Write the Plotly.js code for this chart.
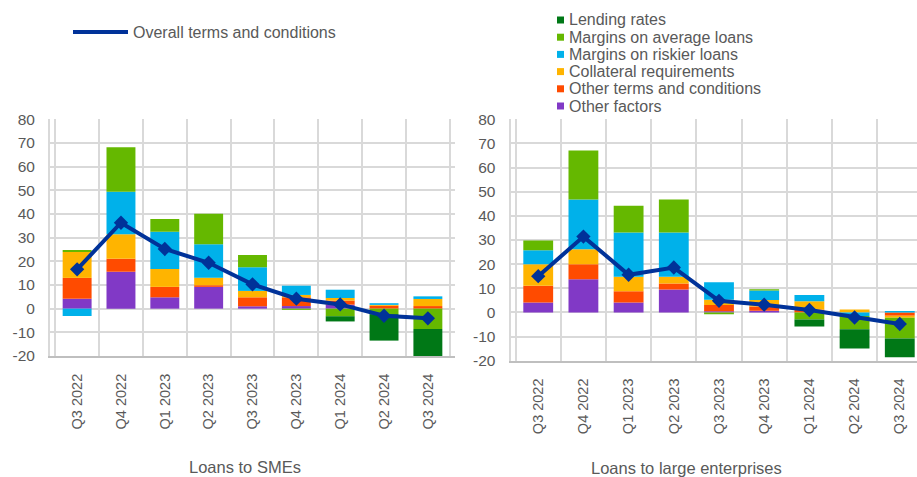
<!DOCTYPE html>
<html>
<head>
<meta charset="utf-8">
<script src="https://cdn.plot.ly/plotly-3.0.1.min.js"></script>
<style>
html, body { margin: 0; padding: 0; overflow: hidden; background: #ffffff; }
#chart { width: 935px; height: 477px; }
</style>
</head>
<body>
<div id="chart"></div>
<script>
// ---- Data ----
const categories = ["Q3 2022","Q4 2022","Q1 2023","Q2 2023","Q3 2023","Q4 2023","Q1 2024","Q2 2024","Q3 2024"];

const seriesNames = ["Lending rates","Margins on average loans","Margins on riskier loans","Collateral requirements","Other terms and conditions","Other factors"];
const lineName = "Overall terms and conditions";

// Loans to SMEs
const smeLending      = [0, 0, 0, 0, 0, 0, -2.2, -11.2, -11.4];
const smeMarginsAvg   = [0.9, 18.8, 5.4, 12.9, 5.2, -0.5, -3.2, -2.3, -8.6];
const smeMarginsRisk  = [-3.1, 18.0, 15.7, 14.1, 10.0, 3.9, 3.5, 0.7, 1.1];
const smeCollateral   = [10.9, 10.3, 7.6, 3.2, 2.7, 1.0, 1.1, 0.4, 3.0];
const smeOtherTerms   = [8.8, 5.5, 4.4, 0.7, 3.8, 3.7, 1.7, 1.2, 1.1];
const smeOtherFactors = [4.2, 15.6, 4.8, 9.2, 1.0, 1.1, 1.7, 0, 0];
const smeOverall      = [16.6, 36.3, 25.2, 19.4, 10.3, 4.2, 1.8, -3.0, -4.1];

// Loans to large enterprises
const largeLending      = [0, 0, 0, 0, 0, 0, -2.9, -7.9, -7.8];
const largeMarginsAvg   = [4.0, 20.3, 11.1, 13.7, -0.8, 0.5, -2.9, -5.5, -8.6];
const largeMarginsRisk  = [5.8, 20.6, 18.3, 18.3, 7.2, 4.0, 2.6, -1.5, 0.6];
const largeCollateral   = [9.0, 6.2, 6.0, 2.8, 2.2, 2.6, 3.4, 1.2, -0.8];
const largeOtherTerms   = [6.9, 6.3, 4.7, 2.5, 2.6, 1.8, 1.2, 0, -1.4];
const largeOtherFactors = [4.1, 13.7, 4.1, 9.5, 0.5, 0.7, 0, 0, 0];
const largeOverall      = [15.0, 31.4, 15.6, 18.6, 4.8, 3.2, 1.0, -2.1, -4.8];

const yTickVals = [-20, -10, 0, 10, 20, 30, 40, 50, 60, 70, 80];
const yTickText = ["-20", "-10", "0", "10", "20", "30", "40", "50", "60", "70", "80"];
const panelTitles = ["Loans to SMEs", "Loans to large enterprises"];

// ---- Styles ----
const colors = ["#007816", "#65B800", "#00B1EA", "#FFB400", "#FF4B00", "#8139C6"];
const lineColor = "#003299";
const textColor = "#595959";
const gridColor = "#d9d9d9";
const FONT = "Arial, 'Liberation Sans', sans-serif";

const smeSeries = [smeLending, smeMarginsAvg, smeMarginsRisk, smeCollateral, smeOtherTerms, smeOtherFactors];
const largeSeries = [largeLending, largeMarginsAvg, largeMarginsRisk, largeCollateral, largeOtherTerms, largeOtherFactors];

const traces = [];
function addPanel(series, overall, xa, ya) {
  // stacking order: Other factors closest to zero ... Lending rates farthest
  for (let i = series.length - 1; i >= 0; i--) {
    traces.push({
      type: "bar", x: categories, y: series[i], name: seriesNames[i],
      xaxis: xa, yaxis: ya, showlegend: false,
      marker: { color: colors[i], line: { width: 0 } }
    });
  }
  traces.push({
    type: "scatter", mode: "lines+markers", x: categories, y: overall, name: lineName,
    xaxis: xa, yaxis: ya, showlegend: false,
    line: { color: lineColor, width: 4 },
    marker: { symbol: "diamond", size: 11, color: lineColor }
  });
}
addPanel(smeSeries, smeOverall, "x", "y");
addPanel(largeSeries, largeOverall, "x2", "y2");

const W = 935, H = 477;
const px = v => v / W;
const py = v => 1 - v / H;

function xAxis(domain, anchor) {
  return {
    domain: domain, anchor: anchor, type: "category",
    tickson: "boundaries", showgrid: true, gridcolor: gridColor, gridwidth: 2,
    showline: true, linecolor: "#bfbfbf", linewidth: 2,
    ticks: "", tickangle: -90, ticklabelstandoff: 10,
    tickfont: { family: FONT, size: 14.5, color: textColor },
    fixedrange: true
  };
}
function yAxis(domain, anchor) {
  return {
    domain: domain, anchor: anchor, range: [-20, 80],
    tickmode: "array", tickvals: yTickVals, ticktext: yTickText,
    showgrid: true, gridcolor: gridColor, gridwidth: 2,
    zeroline: false, showline: true, linecolor: gridColor, linewidth: 2,
    ticks: "", ticklabelstandoff: 10,
    tickfont: { family: FONT, size: 15.5, color: textColor },
    fixedrange: true
  };
}

const annotations = [];
const shapes = [];

// panel titles
annotations.push({ xref: "paper", yref: "paper", x: px(245), y: py(467), xanchor: "center", yanchor: "middle",
  text: panelTitles[0], showarrow: false, font: { family: FONT, size: 16.5, color: textColor } });
annotations.push({ xref: "paper", yref: "paper", x: px(686), y: py(468), xanchor: "center", yanchor: "middle",
  text: panelTitles[1], showarrow: false, font: { family: FONT, size: 16.5, color: textColor } });

// line legend
shapes.push({ type: "line", xref: "paper", yref: "paper", x0: px(73), x1: px(128), y0: py(32), y1: py(32),
  line: { color: lineColor, width: 4 } });
annotations.push({ xref: "paper", yref: "paper", x: px(131), y: py(32), xanchor: "left", yanchor: "middle",
  text: lineName, showarrow: false, font: { family: FONT, size: 16, color: textColor } });

// bar legend
for (let i = 0; i < seriesNames.length; i++) {
  const cy = 20 + i * 17.2;
  shapes.push({ type: "rect", xref: "paper", yref: "paper", x0: px(557), x1: px(564), y0: py(cy - 3.5), y1: py(cy + 3.5),
    fillcolor: colors[i], line: { width: 0 } });
  annotations.push({ xref: "paper", yref: "paper", x: px(567), y: py(cy), xanchor: "left", yanchor: "middle",
    text: seriesNames[i], showarrow: false, font: { family: FONT, size: 16, color: textColor } });
}

const layout = {
  width: W, height: H,
  margin: { l: 0, r: 0, t: 0, b: 0, pad: 0 },
  paper_bgcolor: "#ffffff", plot_bgcolor: "#ffffff",
  barmode: "relative", bargap: 0.34,
  showlegend: false,
  xaxis: xAxis([px(50), px(455)], "y"),
  yaxis: yAxis([1 - 356 / H, 1 - 119.3 / H], "x"),
  xaxis2: xAxis([px(510.5), px(927.5)], "y2"),
  yaxis2: yAxis([1 - 360.7 / H, 1 - 119.3 / H], "x2"),
  annotations: annotations,
  shapes: shapes,
  font: { family: FONT, color: textColor }
};

Plotly.newPlot("chart", traces, layout, { staticPlot: true, displayModeBar: false });
</script>
</body>
</html>
